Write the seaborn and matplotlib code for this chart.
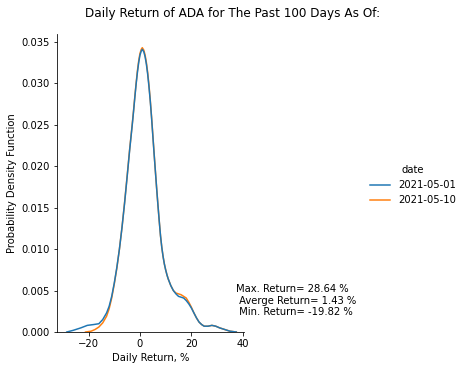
import matplotlib
matplotlib.use("Agg")
import matplotlib.pyplot as plt
import seaborn as sns
import pandas as pd

# Values (Daily Return %, density)
dates = ["2021-05-01", "2021-05-10"]

x_0501 = [-28.5, -26, -23, -20.5, -18, -16, -14.5, -13, -12, -11, -10, -9, -8, -7, -6,
          -5, -4, -3, -2.5, -2, -1.5, -1, -0.5, 0, 0.5, 0.9, 1.5, 2, 2.5, 3, 3.5, 4, 4.5,
          5, 5.5, 6, 6.5, 7, 7.5, 8, 8.5, 9, 9.5, 10, 10.5, 11, 12, 13, 14, 15,
          16, 17, 18, 19, 20, 21, 22, 23, 24, 25, 26.5, 28, 29.5, 31, 33, 35, 37.5]
y_0501 = [0.0000, 0.0002, 0.0005, 0.0008, 0.0009, 0.0010, 0.0015, 0.0023, 0.0031, 0.0043,
          0.0059, 0.0078, 0.0100, 0.0126, 0.0155, 0.0187, 0.0220, 0.0250, 0.0266, 0.0283,
          0.0299, 0.0313, 0.0325, 0.0334, 0.0339, 0.0341, 0.0338, 0.0332, 0.0323, 0.0311,
          0.0296, 0.0279, 0.0259, 0.0237, 0.0215, 0.0194, 0.0173, 0.0153, 0.0134, 0.0116,
          0.0102, 0.0091, 0.0082, 0.0075, 0.0069, 0.0064, 0.0056, 0.0050, 0.0046, 0.0043,
          0.0042, 0.0041, 0.0038, 0.0034, 0.0029, 0.0023, 0.0017, 0.0012, 0.0009, 0.0007,
          0.0007, 0.0008, 0.0007, 0.0005, 0.0003, 0.0001, 0.0000]

x_0510 = [-21.2, -19, -17.5, -16, -14.5, -13, -12, -11, -10, -9, -8, -7, -6,
          -5, -4, -3, -2.5, -2, -1.5, -1, -0.5, 0, 0.5, 0.9, 1.5, 2, 2.5, 3, 3.5, 4, 4.5,
          5, 5.5, 6, 6.5, 7, 7.5, 8, 8.5, 9, 9.5, 10, 10.5, 11, 12, 13, 14, 15,
          16, 17, 18, 19, 20, 21, 22, 23, 24, 25, 26.5, 28, 29.5, 31, 33, 35, 37.5]
y_0510 = [0.0000, 0.0001, 0.0003, 0.0006, 0.0011, 0.0019, 0.0028, 0.0041,
          0.0058, 0.0077, 0.0100, 0.0126, 0.0156, 0.0188, 0.0221, 0.0251, 0.0267, 0.0284,
          0.0300, 0.0315, 0.0327, 0.0336, 0.0341, 0.0343, 0.0340, 0.0334, 0.0325, 0.0313,
          0.0298, 0.0280, 0.0260, 0.0238, 0.0216, 0.0194, 0.0173, 0.0153, 0.0134, 0.0116,
          0.0102, 0.0091, 0.0082, 0.0075, 0.0069, 0.0064, 0.0056, 0.0050, 0.0047, 0.0046,
          0.0045, 0.0043, 0.0041, 0.0036, 0.0030, 0.0023, 0.0017, 0.0012, 0.0009, 0.0007,
          0.0007, 0.0008, 0.0007, 0.0005, 0.0003, 0.0001, 0.0000]

title = "Daily Return of ADA for The Past 100 Days As Of:"
stats_text = "Max. Return= 28.64 %\n Averge Return= 1.43 %\n Min. Return= -19.82 %"

df = pd.concat([
    pd.DataFrame({"ret": x_0501, "dens": y_0501, "date": dates[0]}),
    pd.DataFrame({"ret": x_0510, "dens": y_0510, "date": dates[1]}),
], ignore_index=True)

W, H, DPI = 466, 370, 72
g = sns.relplot(data=df, x="ret", y="dens", hue="date", hue_order=dates, kind="line",
                palette=["#1f77b4", "#ff7f0e"], height=5, aspect=1, linewidth=1.5,
                estimator=None, sort=True)
fig = g.figure
fig.set_dpi(DPI)
fig.set_size_inches(W / DPI, H / DPI)
ax = g.ax
ax.set_position([57 / W, 1 - 332 / H, (244 - 57) / W, (332 - 34) / H])

# blue on top like the reference
ax.lines[0].set_zorder(3)

ax.set_xlim(-32.3, 40.5)
ax.set_ylim(0, 0.03595)
ax.set_xticks([-20, 0, 20, 40])
ax.set_yticks([0.000, 0.005, 0.010, 0.015, 0.020, 0.025, 0.030, 0.035])
ax.set_xlabel("Daily Return, %")
ax.set_ylabel("Probability Density Function")

sns.move_legend(g, "center left", bbox_to_anchor=(0.775, 0.5), frameon=False, title="date")

fig.suptitle(title, fontsize=12)
fig.text(236 / W, 1 - 284 / H, stats_text, ha="left", va="top", fontsize=10)

fig.savefig("out.png", dpi=DPI)
